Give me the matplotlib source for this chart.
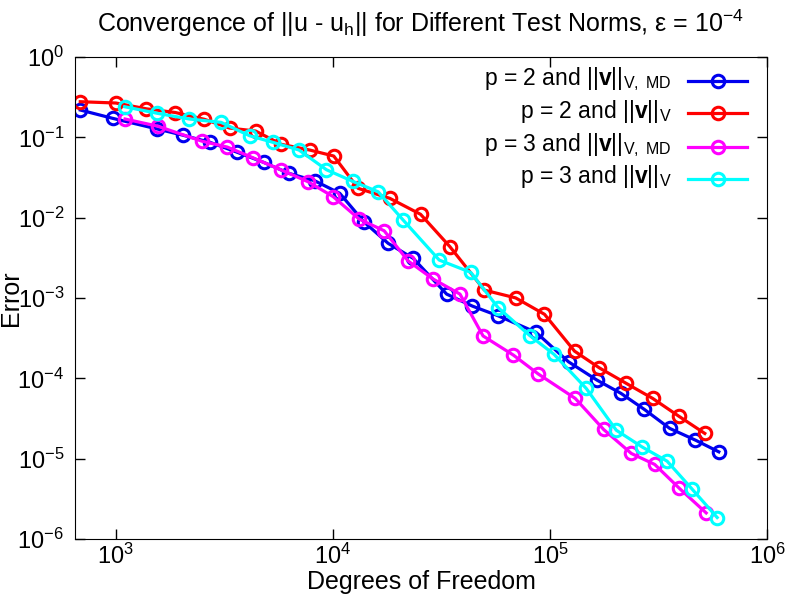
import matplotlib
matplotlib.use("Agg")
import matplotlib.pyplot as plt
from matplotlib.lines import Line2D

plt.rcParams["font.family"] = ["Liberation Sans", "DejaVu Sans"]
plt.rcParams["mathtext.fontset"] = "custom"
plt.rcParams["mathtext.rm"] = "Liberation Sans"
plt.rcParams["mathtext.it"] = "Liberation Sans:italic"
plt.rcParams["mathtext.bf"] = "Liberation Sans:bold"
plt.rcParams["mathtext.default"] = "regular"

# p = 2, V_MD norm (blue)
dofs_p2_md = [686, 967, 1554, 2049, 2716, 3598, 4794, 6273, 8241, 10750, 13873, 17963,
              23425, 33393, 43850, 57310, 86100, 121600, 164400, 212200, 271800,
              355600, 467300, 598600]
err_p2_md = [0.2188, 0.1724, 0.1269, 0.1059, 0.0866, 0.0656, 0.0488, 0.0356, 0.0288,
             0.0201, 0.00889, 0.004786, 0.003113, 0.001118, 0.000793, 0.000604,
             0.000374, 1.605e-4, 9.5e-5, 6.49e-5, 4.10e-5, 2.38e-5, 1.70e-5, 1.215e-5]

# p = 2, V norm (red)
dofs_p2_v = [686, 1000, 1383, 1882, 2561, 3340, 4403, 5785, 7815, 10085, 13057, 18285,
             25335, 34594, 49815, 69390, 94240, 129600, 168500, 224500, 296900,
             391400, 515900]
err_p2_v = [0.2776, 0.2674, 0.2264, 0.2036, 0.1675, 0.1305, 0.1198, 0.0818, 0.0695,
            0.0585, 0.02317, 0.01739, 0.0110, 0.004341, 0.001254, 0.001003, 0.000627,
            2.18e-4, 1.351e-4, 8.64e-5, 5.62e-5, 3.38e-5, 2.06e-5]

# p = 3, V_MD norm (magenta)
dofs_p3_md = [1103, 1562, 2481, 3259, 4279, 5785, 7676, 10010, 13196, 17210, 22220,
              28960, 38470, 49130, 67780, 88420, 130600, 176400, 236700, 303300,
              394300, 523600]
err_p3_md = [0.1690, 0.1375, 0.0899, 0.0757, 0.0557, 0.0392, 0.0280, 0.01832, 0.00961,
             0.00687, 0.00288, 0.001719, 0.001118, 0.000337, 1.945e-4, 1.128e-4,
             5.62e-5, 2.31e-5, 1.16e-5, 8.47e-6, 4.26e-6, 2.11e-6]

# p = 3, V norm (cyan)
dofs_p3_v = [1098, 1554, 2184, 3051, 4131, 5291, 6975, 9333, 12381, 16150, 21060,
             30870, 43100, 57610, 80700, 104400, 146700, 201800, 265200, 345900,
             451200, 588400]
err_p3_v = [0.2405, 0.1990, 0.1690, 0.1537, 0.1047, 0.0866, 0.0695, 0.0395, 0.0282,
            0.0210, 0.00933, 0.002965, 0.002084, 0.000759, 0.00034, 1.984e-4, 7.49e-5,
            2.26e-5, 1.40e-5, 9.31e-6, 4.17e-6, 1.85e-6]

labels = [
    r"p = 2 and ||$\mathbf{v}$||$_{\mathrm{V,\ MD}}$",
    r"p = 2 and ||$\mathbf{v}$||$_{\mathrm{V}}$",
    r"p = 3 and ||$\mathbf{v}$||$_{\mathrm{V,\ MD}}$",
    r"p = 3 and ||$\mathbf{v}$||$_{\mathrm{V}}$",
]
colors = ["#0000ee", "#ff0000", "#ff00ff", "#00ffff"]
series = [(dofs_p2_md, err_p2_md), (dofs_p2_v, err_p2_v),
          (dofs_p3_md, err_p3_md), (dofs_p3_v, err_p3_v)]

fig = plt.figure(figsize=(8, 6), dpi=100)
ax = fig.add_axes([0.094, 0.1017, 0.865, 0.8033])

style = dict(lw=2.3, marker="o", ms=9, mew=2.2, mfc="none")
for (x, y), c in zip(series, colors):
    ax.plot(x, y, color=c, mec=c, **style)

ax.set_xscale("log")
ax.set_yscale("log")
ax.set_xlim(650, 1e6)
ax.set_ylim(1e-6, 1)
ax.minorticks_off()
ax.tick_params(which="major", direction="in", length=7, width=1,
               top=True, right=True, labelsize=17)
ax.tick_params(axis="x", pad=3.5)
ax.tick_params(axis="y", pad=8)

fig.text(0.526, 0.9467,
         r"Convergence of ||u - u$_{\mathrm{h}}$|| for Different Test Norms, ε = 10$^{-4}$",
         ha="center", va="baseline", fontsize=18)
ax.set_xlabel("Degrees of Freedom", fontsize=18)
ax.set_ylabel("Error", fontsize=18)
ax.xaxis.set_label_coords(0.5, -0.064)
ax.yaxis.set_label_coords(-0.0755, 0.5)

# gnuplot style key: right aligned text, sample on the right
row_y = [0.9508, 0.8832, 0.8139, 0.7469]
for lab, c, yy in zip(labels, colors, row_y):
    ax.text(0.8613, yy - 0.009, lab, transform=ax.transAxes, ha="right",
            va="baseline", fontsize=16.5)
    ax.add_line(Line2D([0.8854, 0.9715], [yy, yy], transform=ax.transAxes,
                       color=c, lw=2.3))
    ax.add_line(Line2D([0.9285], [yy], transform=ax.transAxes, color=c,
                       marker="o", ms=9, mew=2.2, mfc="none", mec=c))

fig.savefig("out.png", dpi=100)
